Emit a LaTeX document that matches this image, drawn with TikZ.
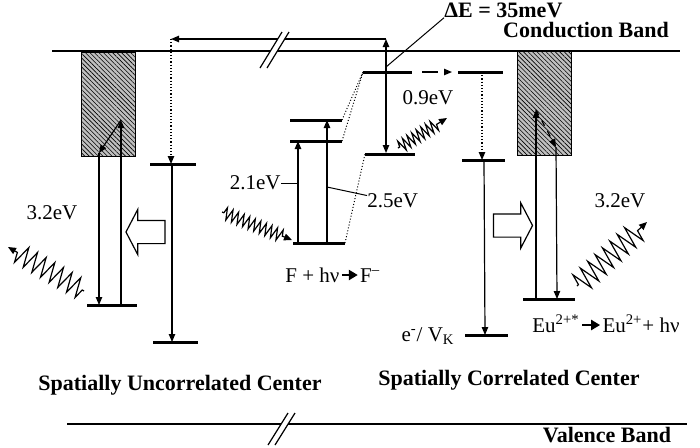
\documentclass[tikz,border=0pt]{standalone}
\usepackage{fontspec}
\setmainfont{Liberation Serif}
\usetikzlibrary{arrows.meta,positioning,decorations.pathmorphing,patterns.meta,shapes.arrows}

\begin{document}
\begin{tikzpicture}[
        x=0.5pt, y=-0.5pt,
        testo/.style={font=\fontsize{10.5}{12}\selectfont, inner sep=0pt},
        titolo/.style={font=\fontsize{11}{13}\selectfont\bfseries, inner sep=0pt},
        banda/.style={line width=1.2pt},
        livello/.style={line width=1.5pt},
        salto/.style={line width=0.6pt, -{Triangle[length=4pt,width=3.2pt]}},
        guida/.style={line width=0.5pt},
        fotone/.style 2 args={
            line width=0.6pt,
            -{Triangle[length=4pt,width=3.4pt]},
            decorate,
            decoration={zigzag, segment length=#1, amplitude=#2,
                pre length=1pt, post length=5pt}
        },
        trappola/.style={
            draw, line width=0.5pt,
            preaction={fill=gray!50},
            pattern={Lines[angle=-45, distance=1.6pt, line width=0.3pt]},
            minimum width=27pt, minimum height=52pt, inner sep=0pt
        },
        freccione/.style={
            single arrow, draw, line width=0.6pt,
            minimum height=19.5pt, minimum width=22pt,
            single arrow head extend=5.5pt, single arrow tip angle=125,
            inner xsep=0pt, inner ysep=5.5pt
        },
        reazione/.style={line width=1.3pt, -{Triangle[length=4.5pt,width=5pt]},
            shorten <=1pt, shorten >=1pt}
    ]
    \useasboundingbox (0,0) rectangle (700,447);

    % Bande
    \coordinate (cbA) at (52,51);  \coordinate (cbB) at (680,51);
    \coordinate (vbA) at (67,424); \coordinate (vbB) at (687,424);
    \draw[banda] (cbA) -- (cbB);
    \draw[banda] (vbA) -- (vbB);
    \node[titolo, anchor=base] (cbT) at (586,37) {Conduction Band};
    \node[titolo, anchor=base] (vbT) at (607,442) {Valence Band};

    % Trappole sotto la banda di conduzione
    \node[trappola] (trL) at (108,104) {};
    \node[trappola] (trR) at (544.5,103) {};

    % Livelli
    \foreach \nome/\xa/\xb/\y in {uA/87/137/305, uB/150/196/164, uC/153/198/342,
        f0/293/345/243, f1/290/342/141, f2/290/342/120, fm0/365/415/154,
        fm1/363/412/72, cA/458/503/72, cB/462/505/160, cC/465/508/335, eu/523/575/299} {
        \coordinate (\nome-l) at (\xa,\y);
        \coordinate (\nome-r) at (\xb,\y);
        \draw[livello] (\nome-l) -- (\nome-r);
    }

    % Centro non correlato
    \coordinate (uP1) at (121,305); \coordinate (uP2) at (121,120);
    \coordinate (uP3) at (99,153);  \coordinate (uP4) at (99,305);
    \draw[salto] (uP1) -- (uP2);
    \draw[salto] (uP2) -- (uP3);
    \draw[salto] (uP3) -- (uP4);
    \coordinate (uQ1) at (171,39);  \coordinate (uQ2) at (171,164);
    \coordinate (uQ3) at (172,164); \coordinate (uQ4) at (172,342);
    \draw[salto, densely dotted] (uQ1) -- (uQ2);
    \draw[salto] (uQ3) -- (uQ4);
    \node[freccione, shape border rotate=180] (frL) at (148.5,232) {};
    \node[testo] (e32L) at (52,213) {3.2eV};

    % Attivazione termica e trasporto
    \coordinate (dE1) at (386,72); \coordinate (dE2) at (386,39);
    \coordinate (dE3) at (386,67);
    \draw[salto] (dE1) -- (dE2);
    \draw[salto] (dE2) -- (uQ1);
    \node[titolo, anchor=base west] (dE) at (444,17) {ΔE = 35meV};
    \draw[guida] (dE3) -- (dE.south west);

    % Centro F
    \coordinate (fP1) at (298,243); \coordinate (fP2) at (298,141);
    \coordinate (fP3) at (327,243); \coordinate (fP4) at (327,120);
    \draw[salto] (fP1) -- (fP2);
    \draw[salto] (fP3) -- (fP4);
    \draw[guida, densely dotted] (f2-r) -- (fm1-l) (f1-r) -- (fm1-l) (f0-r) -- (fm0-l);
    \coordinate (fP5) at (386,153); \coordinate (fP6) at (452,72);
    \draw[salto] (dE1) -- (fP5);
    \draw[salto, dash pattern=on 0pt off 5pt on 8pt off 3pt] (fm1-r) -- (fP6);
    \node[testo, anchor=east] (e21) at (281,183) {2.1eV};
    \coordinate (e21b) at (298,183);
    \draw[guida] (e21) -- (e21b);
    \node[testo, anchor=west] (e25) at (367,201) {2.5eV};
    \coordinate (e25b) at (327,187);
    \draw[guida] (e25b) -- (e25);
    \node[testo] (e09) at (428,98) {0.9eV};
    \node[testo, anchor=base west] (fA) at (285,282) {F + hν};
    \node[testo, base right=10pt of fA] (fB) {F\textsuperscript{–}};
    \draw[reazione] ([yshift=3.5pt]fA.base east) -- ([yshift=3.5pt]fB.base west);

    % Centro correlato
    \coordinate (cP1) at (482,72);  \coordinate (cP2) at (482,160);
    \coordinate (cP3) at (484,160); \coordinate (cP4) at (485,335);
    \draw[salto, densely dotted] (cP1) -- (cP2);
    \draw[salto] (cP3) -- (cP4);
    \node[testo, anchor=base east] (eVk) at (455,341) {e\textsuperscript{-}/ V\textsubscript{K}};
    \node[freccione] (frR) at (510,225.5) {};
    \coordinate (rP1) at (536,299); \coordinate (rP2) at (536,110);
    \coordinate (rP3) at (556,147); \coordinate (rP4) at (557,299);
    \draw[salto] (rP1) -- (rP2);
    \draw[salto, dashed] (rP2) -- (rP3);
    \draw[salto] (rP3) -- (rP4);
    \node[testo] (e32R) at (620,201) {3.2eV};
    \node[testo, anchor=base west] (euA) at (532,332) {Eu\textsuperscript{2+*}};
    \node[testo, base right=11pt of euA] (euB) {Eu\textsuperscript{2+}+ hν};
    \draw[reazione] ([yshift=3.5pt]euA.base east) -- ([yshift=3.5pt]euB.base west);

    % Fotoni
    \coordinate (phA1) at (84,291);  \coordinate (phA2) at (8,247);
    \coordinate (phB1) at (222,212); \coordinate (phB2) at (292,240);
    \coordinate (phC1) at (398,148); \coordinate (phC2) at (447,118);
    \coordinate (phD1) at (577,286); \coordinate (phD2) at (647,222);
    \draw[fotone={5pt}{5pt}] (phA1) -- (phA2);
    \draw[fotone={3pt}{3pt}] (phB1) -- (phB2);
    \draw[fotone={2.7pt}{3pt}] (phC1) -- (phC2);
    \draw[fotone={5pt}{5.5pt}] (phD1) -- (phD2);

    % Titoli dei centri
    \node[titolo, anchor=base] (sUC) at (180,390) {Spatially Uncorrelated Center};
    \node[titolo, anchor=base] (sCC) at (509,385) {Spatially Correlated Center};

    % Interruzioni
    \foreach \xa/\ya/\xb/\yb in {260/68/282/32, 268/445/288/413} {
        \fill[white] (\xa,\ya) -- (\xb,\yb) -- (\xb+7,\yb) -- (\xa+7,\ya) -- cycle;
        \draw[guida, line width=0.6pt] (\xa,\ya) -- (\xb,\yb) (\xa+7,\ya) -- (\xb+7,\yb);
    }
\end{tikzpicture}
\end{document}
